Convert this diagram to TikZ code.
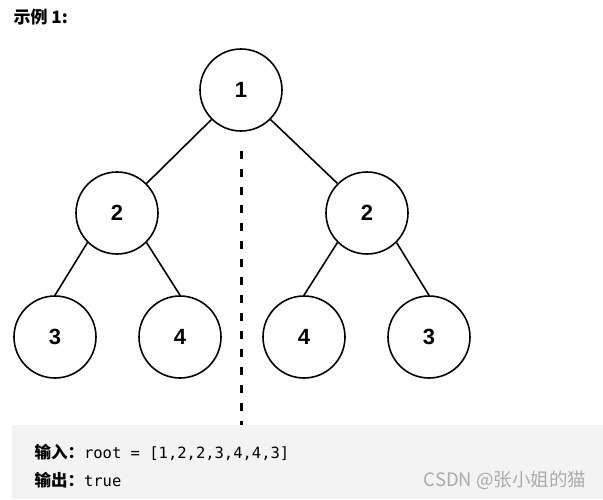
\documentclass[tikz,border=0pt]{standalone}
\usepackage{fontspec}
\setmainfont{Liberation Sans}
\setmonofont{DejaVu Sans Mono}
\newfontfamily\cjk{Noto Sans CJK SC}
\usetikzlibrary{positioning}

\definecolor{codebg}{HTML}{F3F3F4}
\definecolor{wmark}{HTML}{ABABAB}

\begin{document}
\begin{tikzpicture}[x=1pt, y=-1pt,
    tnode/.style={draw, circle, line width=1.6pt, minimum size=82pt, inner sep=0pt, font=\fontsize{22}{26}\selectfont\bfseries},
    edge/.style={line width=1.6pt}]
    \useasboundingbox (0,0) rectangle (603,499);
    % title
    \node[anchor=west, font=\fontsize{17}{20}\selectfont\cjk\bfseries] (title) at (10,17) {示例 1:};
    % tree: root, two 2s, four leaves
    \node[tnode] (r) at (241,90) {1};
    \node[tnode] (a) at (117,213) {2};
    \node[tnode] (b) at (367,213) {2};
    \node[tnode] (a1) at (55,337) {3};
    \node[tnode] (a2) at (180,337) {4};
    \node[tnode] (b1) at (304,337) {4};
    \node[tnode] (b2) at (429,337) {3};
    \draw[edge] (r.south west) -- (a.north east);
    \draw[edge] (r.south east) -- (b.north west);
    \draw[edge] (a.south west) -- (a1.north);
    \draw[edge] (a.south east) -- (a2.north);
    \draw[edge] (b.south west) -- (b1.north);
    \draw[edge] (b.south east) -- (b2.north);
    % mirror axis
    \coordinate (mtop) at (241,151);
    \coordinate (mbot) at (241,425);
    \draw[line width=3pt, dash pattern=on 8pt off 10pt] (mtop) -- (mbot);
    % input / output box
    \fill[codebg] (12,425) rectangle (603,499);
    \node[anchor=west] (inp) at (31,452) {{\fontsize{16.5}{19}\selectfont\cjk\bfseries 输入：}{\fontsize{15.5}{19}\selectfont\ttfamily root = [1,2,2,3,4,4,3]}};
    \node[anchor=west] (outp) at (31,480) {{\fontsize{16.5}{19}\selectfont\cjk\bfseries 输出：}{\fontsize{15.5}{19}\selectfont\ttfamily true}};
    \node[anchor=east, text=wmark, font=\fontsize{18.5}{22}\selectfont\cjk] (wm) at (590,480) {CSDN @张小姐的猫};
\end{tikzpicture}
\end{document}
